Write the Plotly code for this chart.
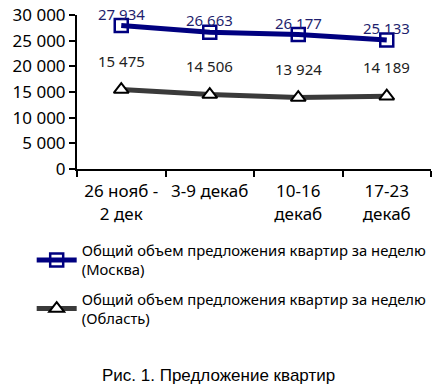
import plotly.graph_objects as go

categories = ["26 нояб -<br>2 дек", "3-9 декаб", "10-16<br>декаб", "17-23<br>декаб"]
moscow = [27934, 26663, 26177, 25133]
oblast = [15475, 14506, 13924, 14189]
name_moscow = "Общий объем предложения квартир за неделю<br>(Москва)"
name_oblast = "Общий объем предложения квартир за неделю<br>(Область)"
title_text = "Рис. 1. Предложение квартир"

FONT = "Noto Sans"
fig = go.Figure()
fig.add_trace(go.Scatter(
    x=categories, y=moscow, name=name_moscow, mode="lines+markers", legendgroup="m",
    line=dict(color="#000080", width=5),
    marker=dict(symbol="square-open", size=13, color="#000080", line=dict(width=2.5)),
))
fig.add_trace(go.Scatter(
    x=categories, y=oblast, name=name_oblast, mode="lines+markers", legendgroup="o",
    line=dict(color="#3a3a3a", width=5),
    marker=dict(symbol="triangle-up", size=13, color="white",
                line=dict(width=2, color="black")),
))

def fmt(v):
    return f"{v:,}".replace(",", " ")

ann = []
for c, v in zip(categories, moscow):
    ann.append(dict(x=c, y=v, text=fmt(v), showarrow=False, yshift=12,
                    font=dict(family=FONT, size=15, color="#1f1f6e")))
for c, v in zip(categories, oblast):
    ann.append(dict(x=c, y=v, text=fmt(v), showarrow=False, yshift=29,
                    font=dict(family=FONT, size=15, color="#222222")))
# plot area in page px: x 77..431, y 15..169
ann.append(dict(xref="paper", yref="paper", x=(218 - 77) / 354, y=(169 - 375) / 154,
                text=title_text, showarrow=False, xanchor="center", yanchor="middle",
                font=dict(family="Liberation Sans", size=17, color="black")))

fig.update_layout(
    width=443, height=392,
    margin=dict(l=77, r=12, t=15, b=223, autoexpand=False),
    paper_bgcolor="white", plot_bgcolor="white",
    separators=". ",
    showlegend=True,
    legend=dict(x=-0.128, y=-0.424, xanchor="left", yanchor="top",
                font=dict(family=FONT, size=14.8, color="black"),
                bgcolor="rgba(0,0,0,0)", tracegroupgap=7, itemwidth=40),
    annotations=ann,
    xaxis=dict(type="category", range=[-0.5, 3.5], showline=True, linecolor="black",
               linewidth=2, ticks="outside", tickson="boundaries", ticklen=6,
               tickwidth=2, tickcolor="black", showgrid=False, ticklabelstandoff=6,
               tickfont=dict(family=FONT, size=17, color="black")),
    yaxis=dict(range=[0, 30000], dtick=5000, tickformat=",d", showline=True,
               linecolor="black", linewidth=2, ticks="outside", ticklen=6,
               tickwidth=2, tickcolor="black", showgrid=False, zeroline=False,
               tickfont=dict(family=FONT, size=17, color="black")),
)
fig.write_html("out.html", config={"displayModeBar": False},
               post_script="document.body.style.margin='0';")
